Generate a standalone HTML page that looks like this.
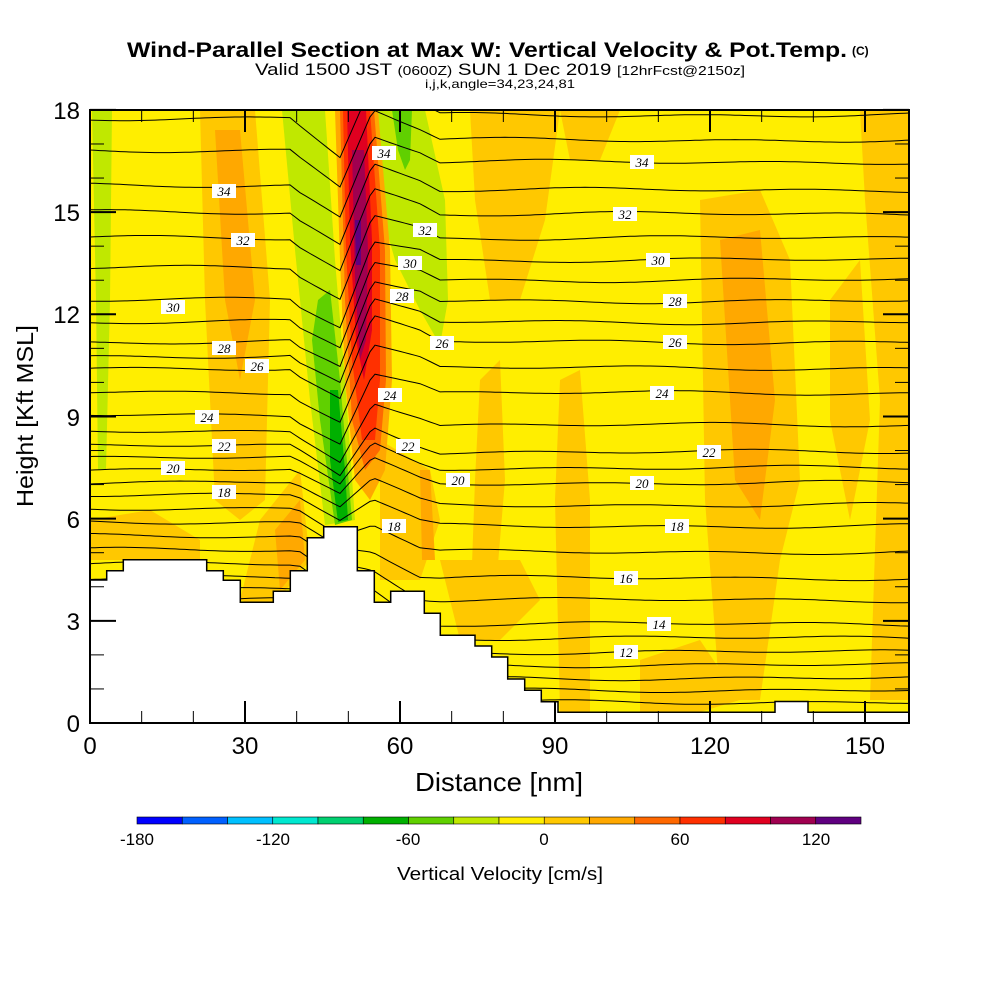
<!DOCTYPE html>
<html><head><meta charset="utf-8"><style>
body{margin:0;background:#fff;width:1000px;height:1000px;overflow:hidden;font-family:"Liberation Sans",sans-serif}
svg{position:absolute;left:0;top:0}
</style></head><body>
<svg width="1000" height="1000" viewBox="0 0 1000 1000" xmlns="http://www.w3.org/2000/svg">
<defs><clipPath id="pc"><rect x="90" y="110" width="819" height="613"/></clipPath></defs>
<g clip-path="url(#pc)">
<rect x="90" y="110" width="819" height="613" fill="#ffee00"/>
<g fill="#ffc800">
<polygon points="200,110 255,110 270,300 265,500 240,520 215,500 205,300"/>
<polygon points="470,110 560,110 545,220 520,300 490,300 475,200"/>
<polygon points="700,200 760,190 790,260 800,480 780,560 760,700 720,700 705,500"/>
<polygon points="860,110 909,110 909,700 870,700 880,400 865,200"/>
<polygon points="440,560 520,560 540,600 500,640 460,640"/>
<polygon points="480,380 500,360 505,480 495,600 470,620 475,480"/>
<polygon points="560,110 620,110 600,160 570,160"/>
<polygon points="90,520 150,510 200,540 200,560 90,560"/>
<polygon points="560,380 580,370 590,500 590,712 560,712 555,500"/>
<polygon points="640,660 700,640 740,700 700,712 640,712"/>
<polygon points="830,300 860,260 870,420 850,520 830,420"/>
<polygon points="380,440 430,470 440,520 420,580 380,580"/>
<polygon points="260,520 300,470 310,560 270,610 240,600"/>
</g>
<g fill="#ffa800">
<polygon points="215,130 240,130 255,300 240,380 225,300"/>
<polygon points="720,240 760,230 775,400 760,520 735,480"/>
<polygon points="420,470 430,470 435,560 422,560"/>
<polygon points="275,530 300,500 305,560 280,590"/>
</g>
<polygon fill="#c0e800" points="92,110 112,110 110,300 106,470 98,470 96,300"/>
<polygon fill="#c0e800" points="282,110 325,110 335,260 345,380 355,520 325,525 310,400 295,250"/>
<polygon fill="#60d000" points="318,300 330,290 340,380 352,520 335,525 320,420 312,340"/>
<polygon fill="#00b000" points="330,390 338,390 345,470 348,520 338,522 330,460"/>
<polygon fill="#c0e800" points="365,110 425,110 445,200 448,300 440,345 420,310 395,260 375,190"/>
<polygon fill="#60d000" points="392,110 412,110 410,160 405,170 398,150"/>
<polygon fill="#ffa800" points="335,110 378,110 390,250 392,380 385,470 370,500 355,480 345,380 340,260"/>
<polygon fill="#ff6800" points="340,110 374,110 385,250 386,380 380,450 365,470 352,420 345,300"/>
<polygon fill="#ff3000" points="343,110 370,110 380,250 380,380 375,440 362,440 352,360 346,250"/>
<polygon fill="#e00020" points="347,110 366,110 372,240 372,330 364,380 356,340 350,240"/>
<polygon fill="#a00050" points="352,150 364,150 368,250 366,340 360,360 355,280"/>
<polygon fill="#600080" points="355,220 361,220 361,265 356,265"/>
<g id="cont" fill="none" stroke="#000" stroke-width="1"></g>
</g>
<polygon fill="#fff" stroke="#000" stroke-width="1.5" points="90,723 90,580 106.7,580 106.7,570.7 123.3,570.7 123.3,559.7 206.7,559.7 206.7,570.7 223.3,570.7 223.3,580.3 240.3,580.3 240.3,602.3 273.3,602.3 273.3,591.3 290.3,591.3 290.3,570.7 307.3,570.7 307.3,537.7 323.7,537.7 323.7,526.7 357.3,526.7 357.3,570.7 374.3,570.7 374.3,602.3 390.7,602.3 390.7,591.3 424.3,591.3 424.3,613.3 440.3,613.3 440.3,635.3 475,635.3 475,646 491.7,646 491.7,657 507.7,657 507.7,679 524.7,679 524.7,690.3 541.3,690.3 541.3,701.7 558,701.7 558,712.3 775,712.3 775,701.5 808,701.5 808,712.3 909,712.3 909,723"/>
<g font-family="Liberation Serif,serif" font-size="13" font-style="italic" text-anchor="middle">
<g fill="#fff"><rect x="630" y="155" width="24" height="14"/><rect x="613" y="207" width="24" height="14"/><rect x="646" y="253" width="24" height="14"/><rect x="663" y="294" width="24" height="14"/><rect x="663" y="335" width="24" height="14"/><rect x="650" y="386" width="24" height="14"/><rect x="697" y="445" width="24" height="14"/><rect x="630" y="476" width="24" height="14"/><rect x="665" y="519" width="24" height="14"/><rect x="614" y="571" width="24" height="14"/><rect x="647" y="617" width="24" height="14"/><rect x="614" y="645" width="24" height="14"/>
<rect x="212" y="184" width="24" height="14"/><rect x="231" y="233" width="24" height="14"/><rect x="161" y="300" width="24" height="14"/><rect x="212" y="341" width="24" height="14"/><rect x="245" y="359" width="24" height="14"/><rect x="195" y="410" width="24" height="14"/><rect x="212" y="439" width="24" height="14"/><rect x="161" y="461" width="24" height="14"/><rect x="212" y="485" width="24" height="14"/>
<rect x="372" y="146" width="24" height="14"/><rect x="413" y="223" width="24" height="14"/><rect x="398" y="256" width="24" height="14"/><rect x="390" y="289" width="24" height="14"/><rect x="430" y="336" width="24" height="14"/><rect x="378" y="388" width="24" height="14"/><rect x="396" y="439" width="24" height="14"/><rect x="446" y="473" width="24" height="14"/><rect x="382" y="519" width="24" height="14"/></g>
<g fill="#000"><text x="642" y="167">34</text><text x="625" y="219">32</text><text x="658" y="265">30</text><text x="675" y="306">28</text><text x="675" y="347">26</text><text x="662" y="398">24</text><text x="709" y="457">22</text><text x="642" y="488">20</text><text x="677" y="531">18</text><text x="626" y="583">16</text><text x="659" y="629">14</text><text x="626" y="657">12</text>
<text x="224" y="196">34</text><text x="243" y="245">32</text><text x="173" y="312">30</text><text x="224" y="353">28</text><text x="257" y="371">26</text><text x="207" y="422">24</text><text x="224" y="451">22</text><text x="173" y="473">20</text><text x="224" y="497">18</text>
<text x="384" y="158">34</text><text x="425" y="235">32</text><text x="410" y="268">30</text><text x="402" y="301">28</text><text x="442" y="348">26</text><text x="390" y="400">24</text><text x="408" y="451">22</text><text x="458" y="485">20</text><text x="394" y="531">18</text></g>
</g>
<rect x="90" y="110" width="819" height="613" fill="none" stroke="#000" stroke-width="2"/>
<g id="ticks" stroke="#000" stroke-width="1"></g>
<g font-size="24" text-anchor="end" fill="#000">
<text x="80" y="119">18</text><text x="80" y="221">15</text><text x="80" y="323">12</text><text x="80" y="426">9</text><text x="80" y="528">6</text><text x="80" y="630">3</text><text x="80" y="732">0</text></g>
<g font-size="24" text-anchor="middle" fill="#000">
<text x="90" y="754">0</text><text x="245" y="754">30</text><text x="400" y="754">60</text><text x="555" y="754">90</text><text x="710" y="754">120</text><text x="865" y="754">150</text></g>
<text x="499" y="791" font-size="26" text-anchor="middle" textLength="168" lengthAdjust="spacingAndGlyphs">Distance [nm]</text>
<text transform="translate(33,416) rotate(-90)" font-size="23" text-anchor="middle" textLength="182" lengthAdjust="spacingAndGlyphs">Height [Kft MSL]</text>
<text x="127" y="57" font-size="21" font-weight="bold" textLength="720" lengthAdjust="spacingAndGlyphs">Wind-Parallel Section at Max W: Vertical Velocity &amp; Pot.Temp.</text>
<text x="852" y="55" font-size="12" font-weight="bold">(C)</text>
<text x="500" y="75" font-size="17" text-anchor="middle" textLength="490" lengthAdjust="spacingAndGlyphs">Valid 1500 JST <tspan font-size="13">(0600Z)</tspan> SUN 1 Dec 2019 <tspan font-size="13">[12hrFcst@2150z]</tspan></text>
<text x="500" y="88" font-size="12" text-anchor="middle" textLength="150" lengthAdjust="spacingAndGlyphs">i,j,k,angle=34,23,24,81</text>
<g id="cb"></g>
<g font-size="17" text-anchor="middle"><text x="137" y="845">-180</text><text x="273" y="845">-120</text><text x="408" y="845">-60</text><text x="544" y="845">0</text><text x="680" y="845">60</text><text x="816" y="845">120</text></g>
<text x="500" y="880" font-size="18" text-anchor="middle" textLength="206" lengthAdjust="spacingAndGlyphs">Vertical Velocity [cm/s]</text>
</svg>
<script>
var NS="http://www.w3.org/2000/svg";
function el(p,t,a){var e=document.createElementNS(NS,t);for(var k in a)e.setAttribute(k,a[k]);p.appendChild(e);return e;}
var cols=["#0000ff","#0060ff","#00c0ff","#00e8d0","#00d070","#00b000","#60d000","#c0e800","#ffee00","#ffc800","#ffa800","#ff6800","#ff3000","#e00020","#a00050","#600080"];
var cb=document.getElementById("cb");var w=(861-137)/16;
cols.forEach(function(c,i){el(cb,"rect",{x:137+i*w,y:817,width:w,height:7,fill:c,stroke:"#000","stroke-width":0.6});});
var yR={36:115,35:140,34:162,33:190,32:214,31:238,30:260,29:280,28:301,27:322,26:342,25:368,24:393,23:425,22:452,21:468,20:483,19:505,18:526,17:552,16:578,15:600,14:624,13:638,12:652,11:665,10:678,9:690,8:702};
var yL={36:118,35:150,34:185,33:212,32:238,31:268,30:300,29:322,28:342,27:356,26:368,25:392,24:415,23:432,22:446,21:458,20:470,19:482,18:494,17:508,16:522,15:536,14:550,13:564,12:578,11:590,10:600,9:610,8:620};
function interp(xs,ys,x){if(x<=xs[0])return ys[0];for(var i=1;i<xs.length;i++)if(x<=xs[i])return ys[i-1]+(ys[i]-ys[i-1])*(x-xs[i-1])/(xs[i]-xs[i-1]);return ys[ys.length-1];}
var cont=document.getElementById("cont");
for(var T=8;T<=36;T++){
 var f=T>=26?1:(T>=17?0.3+0.7*(T-17)/9:0.15);
 var d="";
 for(var x=90;x<=910;x+=5){
  var t=interp([90,300,420,910],[0,0,1,1],x);
  var y=yL[T]*(1-t)+yR[T]*t;
  y+=f*interp([90,290,340,373,440,910],[0,0,40,-35,0,0],x);
  y+=1.5*Math.sin(x/37+T)+1.2*Math.sin(x/90+T*0.7);
  d+=(d?"L":"M")+x+","+y.toFixed(1);
 }
 el(cont,"path",{d:d});
}
var tk=document.getElementById("ticks");
for(var n=0;n<=150;n+=10){var x=90+n*5.1667;var L=n%30==0?22:12;
 el(tk,"line",{x1:x,y1:723,x2:x,y2:723-L,"stroke-width":n%30==0?2:1});
 el(tk,"line",{x1:x,y1:110,x2:x,y2:110+L,"stroke-width":n%30==0?2:1});}
for(var k=0;k<=18;k++){var y=723-k*34.06;var L=k%3==0?26:14;
 el(tk,"line",{x1:90,y1:y,x2:90+L,y2:y,"stroke-width":k%3==0?2:1});
 el(tk,"line",{x1:909,y1:y,x2:909-L,y2:y,"stroke-width":k%3==0?2:1});}
</script>
</body></html>
